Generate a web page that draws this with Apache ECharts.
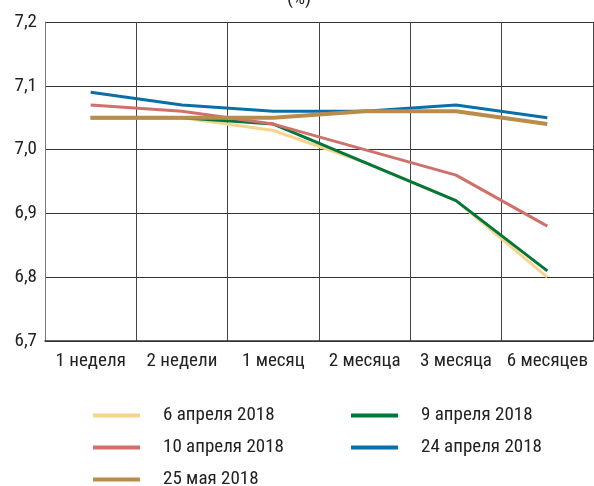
<!DOCTYPE html>
<html><head><meta charset="utf-8">
<script src="https://cdn.jsdelivr.net/npm/echarts@6/dist/echarts.min.js"></script>
<style>html,body{margin:0;padding:0;background:#fff}#c{width:594px;height:486px}</style>
</head><body><div id="c"></div>
<script>
const categories = ['1 неделя','2 недели','1 месяц','2 месяца','3 месяца','6 месяцев'];
const seriesNames = ['6 апреля 2018','9 апреля 2018','10 апреля 2018','24 апреля 2018','25 мая 2018'];
const apr6  = [7.05, 7.05, 7.03, 6.98, 6.92, 6.80];
const apr9  = [7.05, 7.05, 7.04, 6.98, 6.92, 6.81];
const apr10 = [7.07, 7.06, 7.04, 7.00, 6.96, 6.88];
const apr24 = [7.09, 7.07, 7.06, 7.06, 7.07, 7.05];
const may25 = [7.05, 7.05, 7.05, 7.06, 7.06, 7.04];
const yTicks = [6.7, 6.8, 6.9, 7.0, 7.1, 7.2];
const colors = ['#F8D38C','#00773A','#D0706A','#0A6FA6','#B98C4C'];
const FONT = '"Roboto Condensed",sans-serif';
const values = [apr6, apr9, apr10, apr24, may25];

const chart = echarts.init(document.getElementById('c'), null, {renderer:'canvas'});
const legendCommon = {
  orient:'vertical', icon:'rect', itemWidth:47, itemHeight:4, itemGap:11, height:120,
  textStyle:{fontFamily:FONT, fontSize:19, color:'#222', lineHeight:21, padding:[0,0,0,18]}
};
chart.setOption({
  animation:false,
  color: colors,
  graphic:[{type:'text', left:287, top:-10, style:{text:'(%)', font:'19px '+FONT, fill:'#222'}}],
  grid:{left:45, right:1, top:22, bottom:145},
  xAxis:{type:'category', data:categories, boundaryGap:true,
    axisLine:{show:true, lineStyle:{color:'#333', width:1.5}},
    axisTick:{show:false, interval:0},
    axisLabel:{fontFamily:FONT, fontSize:19, color:'#222', margin:11, interval:0},
    splitLine:{show:true, interval:0, lineStyle:{color:'#444', width:1}}
  },
  yAxis:{type:'value', min:yTicks[0], max:yTicks[yTicks.length-1], interval:0.1,
    axisLine:{show:true, lineStyle:{color:'#777', width:1}},
    axisTick:{show:false},
    axisLabel:{fontFamily:FONT, fontSize:19, color:'#222', margin:8,
      formatter:v=>v.toFixed(1).replace('.',',')},
    splitLine:{show:true, lineStyle:{color:'#333', width:1}}
  },
  legend:[
    Object.assign({left:88, top:400, data:[seriesNames[0],seriesNames[2],seriesNames[4]]}, legendCommon),
    Object.assign({left:346, top:400, data:[seriesNames[1],seriesNames[3]]}, legendCommon)
  ],
  series: seriesNames.map((n,i)=>({
    name:n, type:'line', data:values[i], showSymbol:false, symbol:'none',
    lineStyle:{width: i===4 ? 4 : 3, color:colors[i]}, z: 2+i
  }))
});
</script></body></html>
